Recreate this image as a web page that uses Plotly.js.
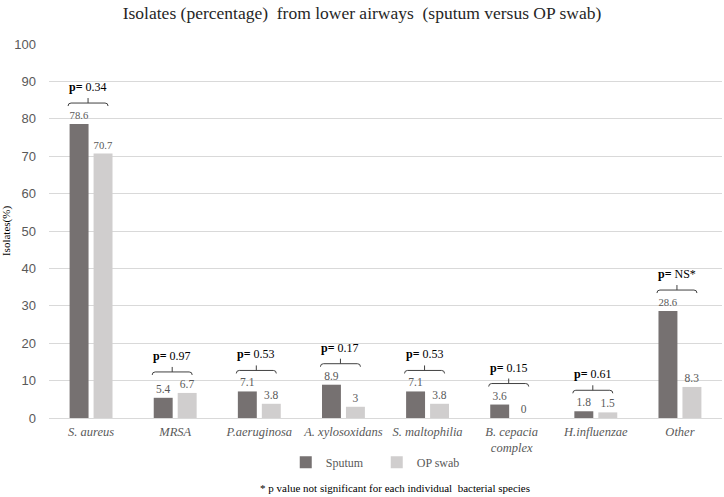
<!DOCTYPE html>
<html>
<head>
<meta charset="utf-8">
<script src="https://cdn.plot.ly/plotly-3.0.1.min.js"></script>
<style>html,body{margin:0;padding:0;background:#fff}#chart{width:724px;height:497px}</style>
</head>
<body>
<div id="chart"></div>
<script>
const categories = ['S. aureus', 'MRSA', 'P.aeruginosa', 'A. xylosoxidans', 'S. maltophilia', 'B. cepacia<br>complex', 'H.influenzae', 'Other'];
const sputum = [78.6, 5.4, 7.1, 8.9, 7.1, 3.6, 1.8, 28.6];
const opSwab = [70.7, 6.7, 3.8, 3, 3.8, 0, 1.5, 8.3];
const pValues = ['0.34', '0.97', '0.53', '0.17', '0.53', '0.15', '0.61', 'NS*'];
const seriesNames = ['Sputum', 'OP swab'];
const yTicks = [0, 10, 20, 30, 40, 50, 60, 70, 80, 90, 100];

const serif = 'Liberation Serif';
const labelFont = {family: serif, size: 11.5, color: '#595959'};

const traces = [
  {type: 'bar', name: seriesNames[0], x: categories, y: sputum, marker: {color: '#767171'},
   text: sputum.map(String), textposition: 'outside', textfont: labelFont, cliponaxis: false, hoverinfo: 'none'},
  {type: 'bar', name: seriesNames[1], x: categories, y: opSwab, marker: {color: '#d0cece'},
   text: opSwab.map(String), textposition: 'outside', textfont: labelFont, cliponaxis: false, hoverinfo: 'none'}
];

const shapes = [];
const annotations = [];
categories.forEach((c, i) => {
  const top = Math.max(sputum[i], opSwab[i]);
  shapes.push({
    type: 'path', xref: 'x', yref: 'y', xsizemode: 'pixel', ysizemode: 'pixel',
    xanchor: i, yanchor: top,
    path: 'M-23,18 Q-23,21 -20,21 L14,21 Q17,21 17,18 M-3,21 L-3,26',
    line: {color: '#404040', width: 1}
  });
  annotations.push({
    xref: 'x', yref: 'y', x: i, y: top, xshift: -3, yshift: 37,
    text: '<b>p=</b> ' + pValues[i], showarrow: false,
    font: {family: serif, size: 12, color: '#000'}
  });
});
annotations.push({
  xref: 'paper', yref: 'paper', x: 0.514, y: -0.187, xanchor: 'center', yanchor: 'middle',
  text: '* p value not significant for each individual&nbsp; bacterial species', showarrow: false,
  font: {family: serif, size: 11, color: '#000'}
});

const layout = {
  width: 724, height: 497,
  margin: {l: 49, r: 2, t: 44, b: 79},
  paper_bgcolor: '#fff', plot_bgcolor: '#fff',
  font: {family: serif},
  title: {text: 'Isolates (percentage)&nbsp; from lower airways&nbsp; (sputum versus OP swab)',
    font: {family: serif, size: 17.5, color: '#262626'},
    x: 0.5, xanchor: 'center', xref: 'container', y: 0.974, yanchor: 'middle', yref: 'container'},
  barmode: 'group', bargap: 0.43, bargroupgap: 0.21,
  showlegend: true,
  legend: {orientation: 'h', x: 0.487, xanchor: 'center', y: -0.118, yanchor: 'middle',
    font: {family: serif, size: 12, color: '#595959'}, itemwidth: 30, entrywidth: 46, tracegroupgap: 0},
  xaxis: {type: 'category', tickfont: {family: serif, size: 12.5, color: '#595959', style: 'italic'},
    showgrid: false, showline: false, ticks: '', ticklabelstandoff: 4, fixedrange: true},
  yaxis: {range: [0, 100], tickvals: yTicks, ticktext: yTicks.map(String),
    tickfont: {family: 'Liberation Sans', size: 13, color: '#595959'},
    gridcolor: '#d9d9d9', gridwidth: 1, zeroline: true, zerolinecolor: '#d9d9d9', showline: false,
    ticks: '', ticklabelstandoff: 12,
    title: {text: 'Isolates(%)', font: {family: serif, size: 11, color: '#000'}, standoff: 6},
    fixedrange: true},
  shapes: shapes,
  annotations: annotations
};

Plotly.newPlot('chart', traces, layout, {displayModeBar: false});
</script>
</body>
</html>
